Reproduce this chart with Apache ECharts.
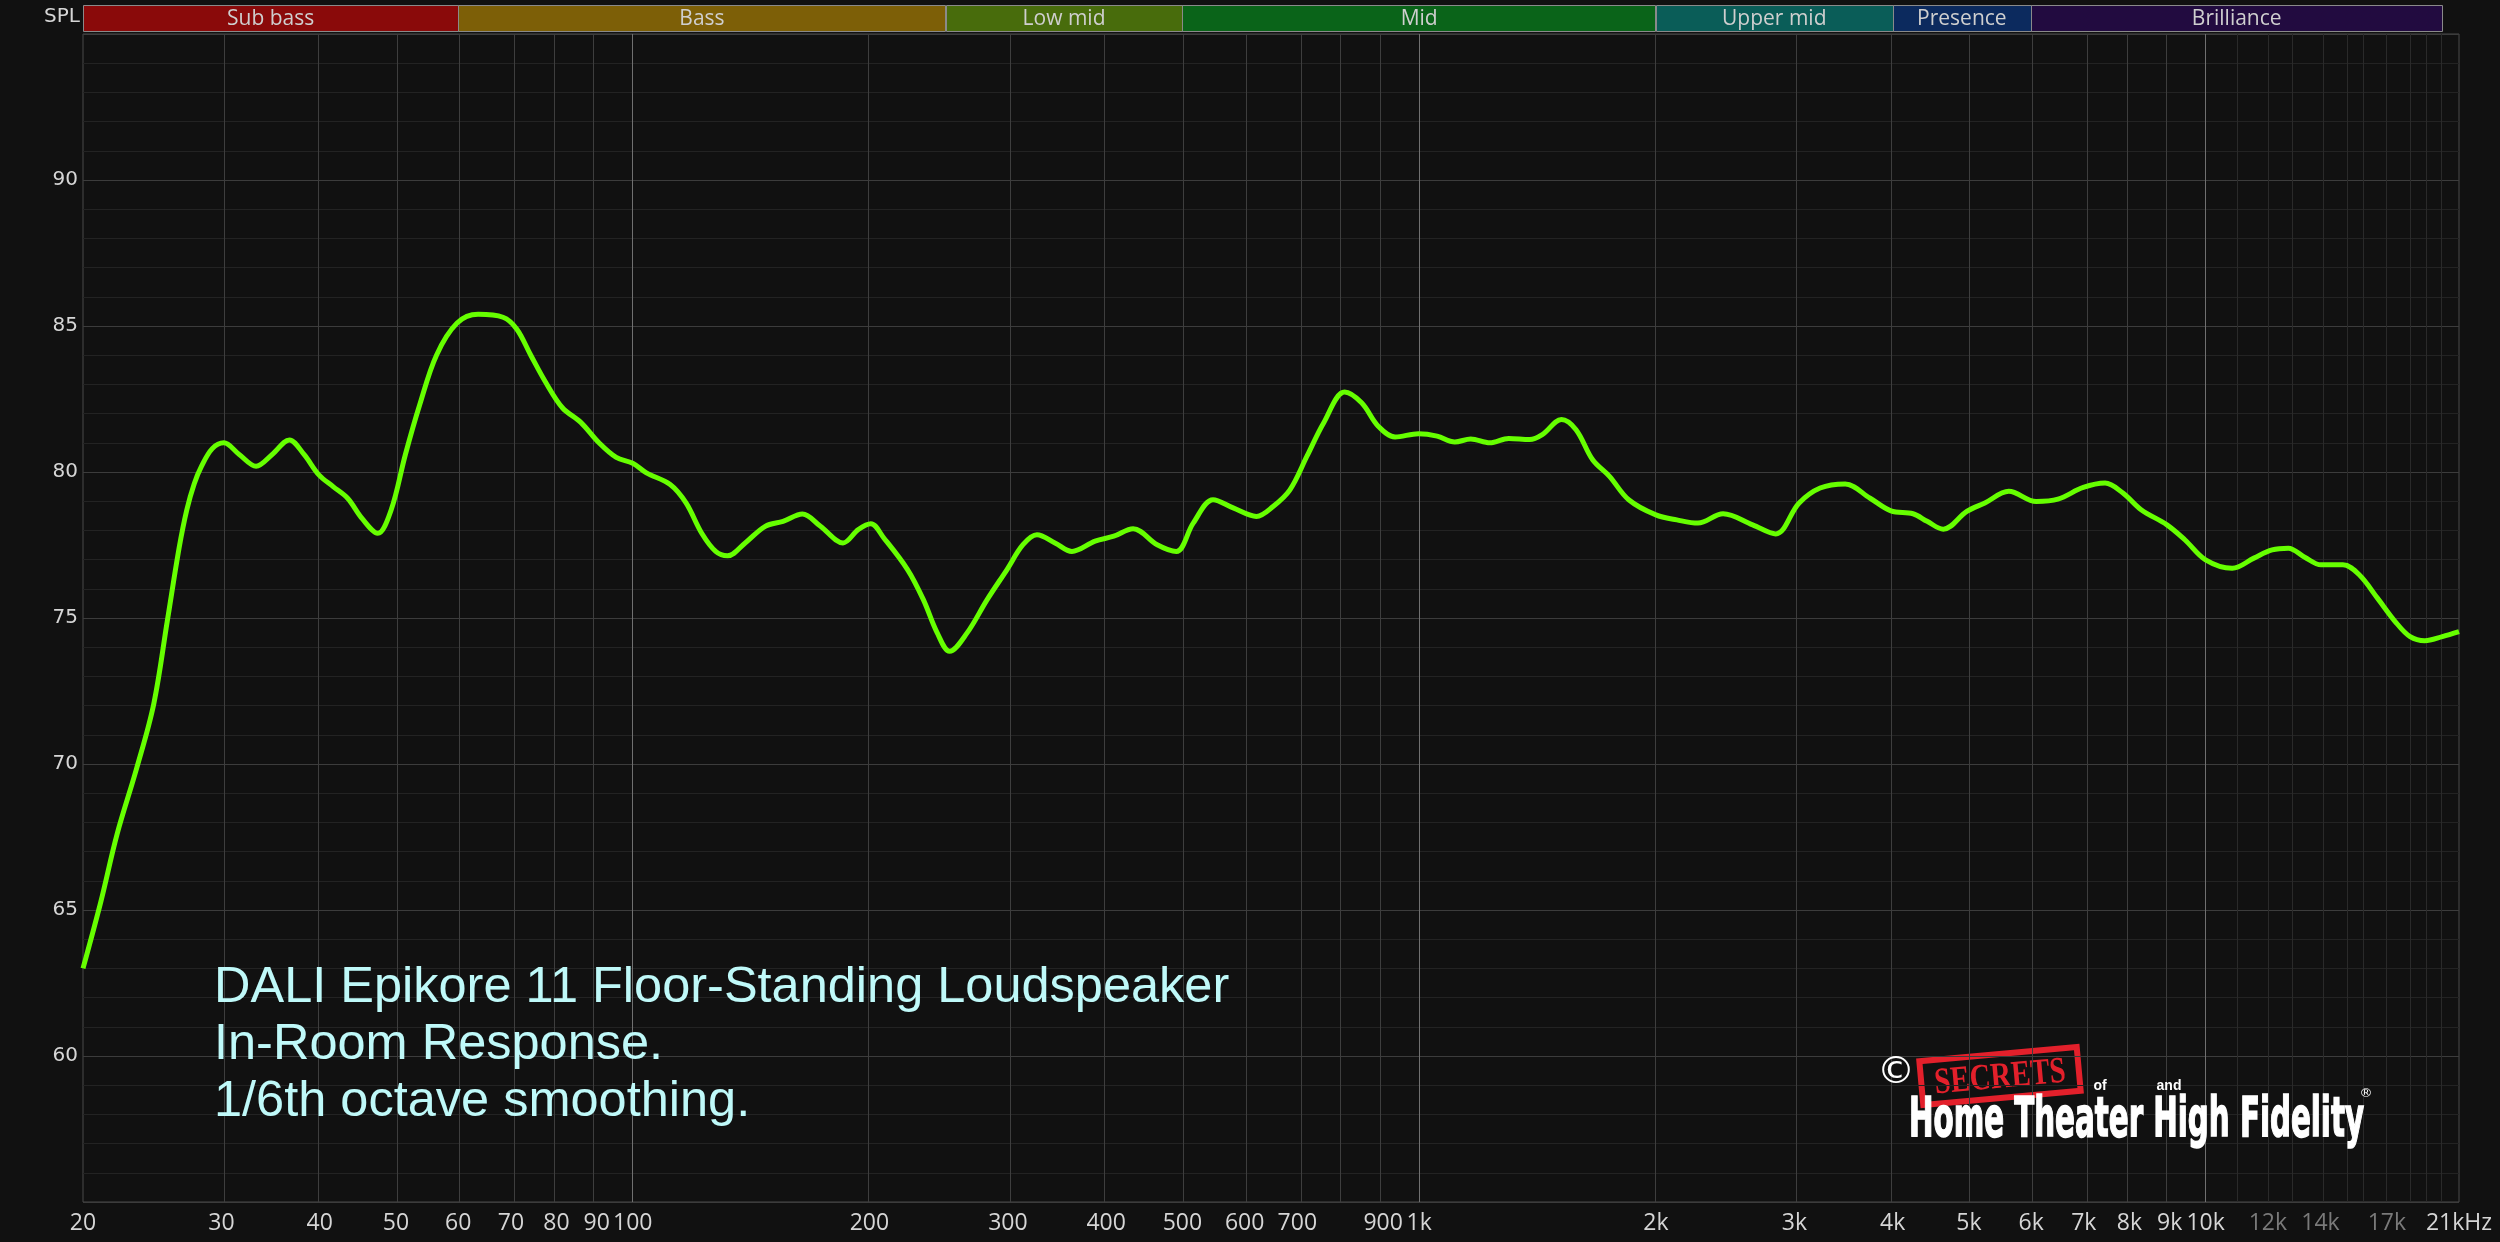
<!DOCTYPE html>
<html><head><meta charset="utf-8">
<script src="https://cdn.jsdelivr.net/npm/echarts@6/dist/echarts.min.js"></script>
<style>html,body{margin:0;padding:0;background:#111111;}#c{width:2500px;height:1242px;}</style>
</head><body><div id="c"></div>
<script>
// ---- data ----
const freqs = [20,21.07,22.1,23.4,24.6,25.6,26.5,27.1,27.7,28.3,29.2,30.2,31.6,33.2,34.8,36.6,38.2,39.9,41.6,43.4,45.3,47.4,49.3,51.4,53.6,56.3,59.8,63.6,68.4,71.2,74.2,77.4,81.4,85.9,90.6,95.3,
100,104.1,111.6,116.9,122.4,127.5,132,139,147.4,155.3,164.4,173.3,185.1,193.6,200.8,208.6,223.6,234.2,243.9,252.9,266.2,282.3,299.2,313.5,326.6,344.3,361.8,387.2,409,432.8,464.4,491.2,516.1,547,580.1,
621,652,685,720,756,804,845,887,932,998,1054,1110,1163,1230,1300,1382,1434,1517,1583,1662,1746,1847,2000,2127,2262,2435,2655,2841,3040,3235,3481,3745,
3980,4246,4425,4640,4970,5240,5620,6090,6490,6990,7450,7850,8280,8930,9410,10000,10810,11520,12150,12740,13370,14020,14950,15680,16540,17430,18200,19000,20000,21000];
const spl = [63.0,65.28,67.6,69.85,72.05,74.9,77.4,78.7,79.6,80.2,80.8,81.0,80.6,80.2,80.6,81.1,80.6,79.9,79.5,79.1,78.4,77.9,78.7,80.6,82.3,84.0,85.1,85.4,85.3,84.9,84.0,83.1,82.2,81.7,81.0,80.5,
80.3,79.97,79.57,78.94,77.9,77.28,77.13,77.57,78.14,78.31,78.56,78.14,77.57,78.03,78.23,77.74,76.66,75.63,74.49,73.86,74.49,75.63,76.66,77.51,77.85,77.57,77.28,77.63,77.8,78.06,77.51,77.28,78.25,79.05,78.77,
78.48,78.82,79.39,80.54,81.68,82.74,82.37,81.57,81.2,81.31,81.23,81.03,81.13,81.0,81.15,81.11,81.28,81.8,81.45,80.42,79.85,79.05,78.53,78.36,78.25,78.57,78.19,77.88,78.93,79.45,79.59,79.1,
78.67,78.57,78.31,78.04,78.65,78.94,79.34,78.99,79.07,79.47,79.62,79.28,78.71,78.19,77.68,76.99,76.7,77.05,77.33,77.39,77.08,76.82,76.82,76.48,75.68,74.87,74.36,74.22,74.36,74.53];
const xLabelFreqs = [20,30,40,50,60,70,80,90,100,200,300,400,500,600,700,900,1000,2000,3000,4000,5000,6000,7000,8000,9000,10000,12000,14000,17000,21000];
const xLabelTexts = ['20','30','40','50','60','70','80','90','100','200','300','400','500','600','700','900','1k','2k','3k','4k','5k','6k','7k','8k','9k','10k','12k','14k','17k','21kHz'];
const dimLabelFreqs = [12000,14000,17000];
const gridFreqs = [30,40,50,60,70,80,90,100,200,300,400,500,600,700,800,900,1000,2000,3000,4000,5000,6000,7000,8000,9000,10000,11000,12000,13000,14000,15000,16000,17000,18000,19000,20000];
const majorGridFreqs = [100,1000,10000];
const yMin = 55, yMax = 95, yStep = 5;
const bandNames = ['Sub bass','Bass','Low mid','Mid','Upper mid','Presence','Brilliance'];
const bandStart = [20,60,250,500,2000,4000,6000];
const bandEnd = [60,250,500,2000,4000,6000,20000];
const bandColors = ['#8a0a0a','#7d5f07','#486c0c','#0a6419','#0a5d58','#0c2a5e','#220b40'];
const fMin = 20, fMax = 21000;
const annotation = ['DALI Epikore 11 Floor-Standing Loudspeaker','In-Room Response.','1/6th octave smoothing.'];

// ---- chart ----
const L = Math.log10;
const chart = echarts.init(document.getElementById('c'), null, {renderer:'canvas'});
const labelMap = {};
xLabelFreqs.forEach((f,i)=>{ labelMap[L(f).toFixed(6)] = {t:xLabelTexts[i], dim: dimLabelFreqs.includes(f)}; });

const gridLineData = gridFreqs.map(f => ({
  xAxis: L(f),
  lineStyle: {color: majorGridFreqs.includes(f) ? '#707070' : (f > 10000 ? '#2a2a2a' : '#3e3e3e'), width: 1, type:'solid'}
}));

function measure(font, text){ const c=document.createElement('canvas').getContext('2d'); c.font=font; return c.measureText(text).width; }
const logoFont = 'bold 56px "Liberation Sans Narrow", "DejaVu Sans Condensed", sans-serif';
const logoText = 'Home Theater High Fidelity';
const logoScale = 455 / measure(logoFont, logoText);

const option = {
  backgroundColor: '#111111',
  animation: false,
  grid: [
    {left:83, right:41, top:34, bottom:40, show:true, borderColor:'#4a4a4a', borderWidth:1, backgroundColor:'#111111'},
    {left:83, right:41, top:5, height:26}
  ],
  xAxis: [
    {gridIndex:0, type:'value', min:L(fMin), max:L(fMax),
     axisLine:{show:false}, axisTick:{show:false}, splitLine:{show:false},
     axisLabel:{customValues: xLabelFreqs.map(L), margin:10, fontSize:23, fontFamily:'"Open Sans"', color:'#d6d6d6',
       formatter: v => { const o = labelMap[Number(v).toFixed(6)]; if(!o) return ''; return o.dim ? '{d|'+o.t+'}' : o.t; },
       rich:{d:{color:'#7a7a7a', fontSize:23, fontFamily:'"Open Sans"'}}}},
    {gridIndex:1, type:'value', min:L(fMin), max:L(fMax), show:false}
  ],
  yAxis: [
    {gridIndex:0, type:'value', min:yMin, max:yMax, interval:yStep,
     axisLine:{show:false}, axisTick:{show:false},
     splitLine:{show:true, lineStyle:{color:'#3c3c3c'}},
     minorTick:{show:false, splitNumber:5},
     minorSplitLine:{show:true, lineStyle:{color:'#232323'}},
     axisLabel:{showMinLabel:false, showMaxLabel:false, margin:5, fontSize:20, fontFamily:'"DejaVu Sans"', color:'#d6d6d6'}},
    {gridIndex:1, type:'value', min:0, max:1, show:false}
  ],
  series: [
    {type:'line', xAxisIndex:0, yAxisIndex:0, data:[], silent:true, z:1,
     markLine:{silent:true, symbol:['none','none'], label:{show:false}, animation:false, data: gridLineData}},
    {type:'custom', xAxisIndex:1, yAxisIndex:1, silent:true,
     data: bandNames.map((n,i)=>[L(bandStart[i]), L(bandEnd[i]), i]),
     renderItem: (params, api) => {
       const i = api.value(2);
       const a = api.coord([api.value(0), 1]);
       const b = api.coord([api.value(1), 0]);
       return {type:'group', children:[
         {type:'rect', shape:{x:Math.round(a[0])+0.5, y:Math.round(a[1])+0.5, width:Math.round(b[0]-a[0]), height:Math.round(b[1]-a[1])},
          style:{fill:bandColors[i], stroke:'#8a8a8a', lineWidth:1}},
         {type:'text', style:{text:bandNames[i], x:(a[0]+b[0])/2, y:(a[1]+b[1])/2+1, align:'center', verticalAlign:'middle',
          fill:'#cfcfcf', fontSize:21, fontFamily:'"Open Sans"'}}
       ]};
     }},
    {type:'line', xAxisIndex:0, yAxisIndex:0, z:5, showSymbol:false, smooth:0.35, silent:true,
     lineStyle:{color:'#66ff00', width:5},
     data: freqs.map((f,i)=>[L(f), spl[i]])}
  ],
  graphic: [
    {type:'text', x:80, y:17, style:{text:'SPL', align:'right', verticalAlign:'middle', fill:'#d6d6d6', fontSize:20, fontFamily:'"DejaVu Sans"'}},
    ...annotation.map((t,i)=>({type:'text', x:214, y:988 + i*57, z:10,
      style:{text:t, align:'left', verticalAlign:'middle', fill:'#bff9f9', fontSize:50.5, fontFamily:'"Liberation Sans", Arial, sans-serif',
        textShadowColor:'rgba(0,0,0,0.8)', textShadowOffsetX:2, textShadowOffsetY:2}})),
    {type:'text', x:1896, y:1073, z:10, style:{text:'©', align:'center', verticalAlign:'middle', fill:'#ffffff', fontSize:38, fontFamily:'"DejaVu Sans"'}},
    {type:'group', x:2000, y:1076, rotation:0.09, z:10, children:[
      {type:'rect', shape:{x:-79, y:-22, width:158, height:44}, style:{fill:'none', stroke:'#e3202b', lineWidth:6}},
      {type:'text', x:0, y:2, scaleX:0.78, style:{text:'SECRETS', align:'center', verticalAlign:'middle', fill:'#e3202b', fontSize:37, fontWeight:'bold', fontFamily:'"Liberation Serif", serif'}}
    ]},
    {type:'text', x:2100, y:1086, z:10, style:{text:'of', align:'center', verticalAlign:'middle', fill:'#ffffff', fontSize:14, fontWeight:'bold', fontFamily:'"Liberation Sans Narrow", sans-serif'}},
    {type:'text', x:2169, y:1086, z:10, style:{text:'and', align:'center', verticalAlign:'middle', fill:'#ffffff', fontSize:14, fontWeight:'bold', fontFamily:'"Liberation Sans Narrow", sans-serif'}},
    {type:'text', x:1909, y:1121, scaleX:logoScale, z:10, style:{text:logoText, align:'left', verticalAlign:'middle', fill:'#ffffff', font:logoFont, stroke:'#ffffff', lineWidth:1.5}},
    {type:'text', x:2366, y:1094, z:10, style:{text:'®', align:'center', verticalAlign:'middle', fill:'#ffffff', fontSize:13, fontFamily:'"DejaVu Sans"'}}
  ]
};
chart.setOption(option);
</script>
</body></html>
